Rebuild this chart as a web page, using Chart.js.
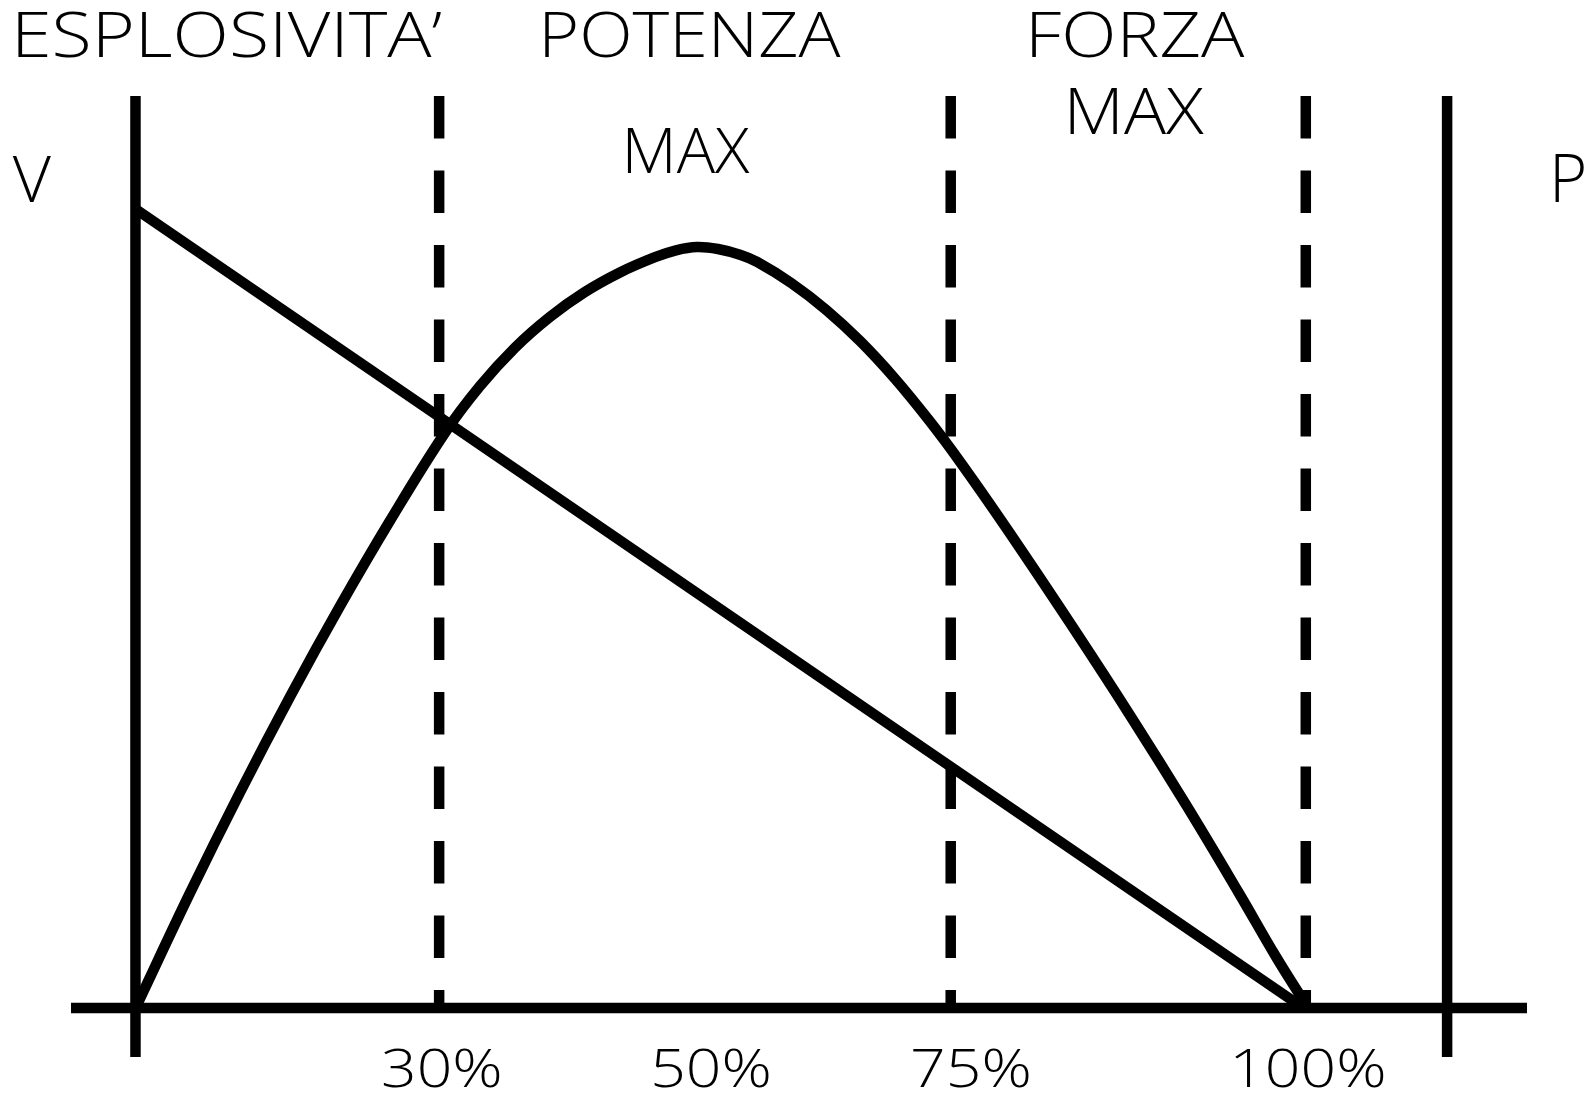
<!DOCTYPE html>
<html><head><meta charset="utf-8">
<script src="https://cdn.jsdelivr.net/npm/chart.js@4/dist/chart.umd.min.js"></script>
<style>html,body{margin:0;padding:0;background:#fff}#wrap{width:1596px;height:1096px}</style>
</head><body><div id="wrap"><canvas id="c" width="1596" height="1096"></canvas></div>
<script>
// ---- data (schematic units: x = drawn position 0..100 along load axis, y = relative value) ----
const powerX = [0.21, 4.67, 8.95, 13.23, 17.51, 21.79, 26.50, 29.49, 32.49, 35.49, 38.48, 41.48, 44.48, 46.28, 48.07, 49.87, 51.76, 53.22, 56.17, 59.12, 62.06, 65.02, 67.96, 70.62, 74.59, 80.15, 85.29, 90.00, 94.42, 97.65, 99.96];
const powerY = [0.63, 14.41, 27.00, 38.96, 50.29, 60.98, 72.00, 77.82, 82.64, 86.50, 89.61, 92.06, 93.97, 94.83, 95.24, 94.99, 94.27, 93.37, 90.71, 87.40, 83.44, 78.77, 73.52, 68.32, 60.01, 47.88, 36.32, 25.31, 14.52, 6.41, 1.00];
const velocityX = [0, 100];
const velocityY = [100, 0];
const zoneLineX = [26.0, 69.8, 100.2];
const frameLineX = [0, 112.3];
const tickPositions = [26.2, 49.3, 71.5, 100.5];
const tickLabels = ['30%', '50%', '75%', '100%'];
const zoneTitles = ['ESPLOSIVITA\u2019', 'POTENZA', 'FORZA'];
const maxLabel = 'MAX';
const axisNames = ['V', 'P'];

const X_MIN = -5.52, X_MAX = 119.14, Y_MIN = -6.13, Y_MAX = 114.14;
const INK = '#000';
const LW = 10.5;

function pts(xs, ys) { return xs.map((x, i) => ({ x: x, y: ys[i] })); }
function lineDs(data, extra) {
  return Object.assign({ data: data, borderColor: INK, borderWidth: LW, pointRadius: 0, fill: false, clip: false, tension: 0, borderCapStyle: 'butt' }, extra || {});
}

const datasets = [];
// frame: horizontal axis and two solid verticals
datasets.push(lineDs([{ x: X_MIN, y: 0 }, { x: X_MAX, y: 0 }]));
frameLineX.forEach(x => datasets.push(lineDs([{ x: x, y: Y_MIN }, { x: x, y: Y_MAX }])));
// dashed zone boundaries
zoneLineX.forEach(x => datasets.push(lineDs([{ x: x, y: Y_MAX }, { x: x, y: 0 }], { borderDash: [42.5, 32] })));
// velocity line
datasets.push(lineDs(pts(velocityX, velocityY)));
// power curve
datasets.push(lineDs(pts(powerX, powerY), { tension: 0.4, borderJoinStyle: 'round' }));

const FONT = '"Open Sans", "Noto Sans", "DejaVu Sans", sans-serif';
const CAP = 0.714;

function drawFit(ctx, text, left, right, baseline, capH) {
  const size = capH / CAP;
  ctx.font = '300 ' + size.toFixed(2) + 'px ' + FONT;
  ctx.textAlign = 'left';
  ctx.textBaseline = 'alphabetic';
  const m = ctx.measureText(text);
  const w = m.actualBoundingBoxLeft + m.actualBoundingBoxRight;
  const sx = (right - left) / w;
  ctx.save();
  ctx.translate(left + m.actualBoundingBoxLeft * sx, baseline);
  ctx.scale(sx, 1);
  ctx.fillText(text, 0, 0);
  ctx.restore();
}
function drawCentered(ctx, text, cx, baseline, capH, sx) {
  const size = capH / CAP;
  ctx.font = '300 ' + size.toFixed(2) + 'px ' + FONT;
  ctx.textAlign = 'left';
  ctx.textBaseline = 'alphabetic';
  const m = ctx.measureText(text);
  const w = (m.actualBoundingBoxLeft + m.actualBoundingBoxRight) * sx;
  ctx.save();
  ctx.translate(cx - w / 2 + m.actualBoundingBoxLeft * sx, baseline);
  ctx.scale(sx, 1);
  ctx.fillText(text, 0, 0);
  ctx.restore();
}

const textPlugin = {
  id: 'schemaText',
  afterDraw(chart) {
    const ctx = chart.ctx;
    const xs = chart.scales.x;
    const area = chart.chartArea;
    ctx.save();
    ctx.fillStyle = INK;
    // zone titles
    drawFit(ctx, zoneTitles[0], 18, 441, 57.3, 44.6);
    drawFit(ctx, zoneTitles[1], 545, 841, 57.3, 44.6);
    drawFit(ctx, zoneTitles[2], 1032, 1245, 57.3, 44.6);
    drawFit(ctx, maxLabel, 627.6, 750, 172.7, 44.4);
    drawFit(ctx, maxLabel, 1070, 1204, 134.3, 46);
    // axis names
    drawFit(ctx, axisNames[0], 12.8, 51, 201.7, 45.7);
    drawFit(ctx, axisNames[1], 1555, 1584, 201.7, 46.7);
    // tick labels (percent of max load)
    ctx.font = '300 ' + (37.7 / CAP).toFixed(2) + 'px ' + FONT;
    const m = ctx.measureText('100%');
    const sx = 148.3 / (m.actualBoundingBoxLeft + m.actualBoundingBoxRight);
    tickPositions.forEach((v, i) => {
      drawCentered(ctx, tickLabels[i], xs.getPixelForValue(v), area.bottom + 29.7, 37.7, sx);
    });
    ctx.restore();
  }
};

new Chart(document.getElementById('c'), {
  type: 'line',
  data: { datasets: datasets },
  options: {
    responsive: false,
    animation: false,
    devicePixelRatio: 1,
    layout: { padding: { left: 71, right: 69, top: 96, bottom: 39 } },
    scales: {
      x: { type: 'linear', min: X_MIN, max: X_MAX, display: false },
      y: { type: 'linear', min: Y_MIN, max: Y_MAX, display: false }
    },
    plugins: { legend: { display: false }, tooltip: { enabled: false } },
    events: []
  },
  plugins: [textPlugin]
});
</script>
</body></html>
